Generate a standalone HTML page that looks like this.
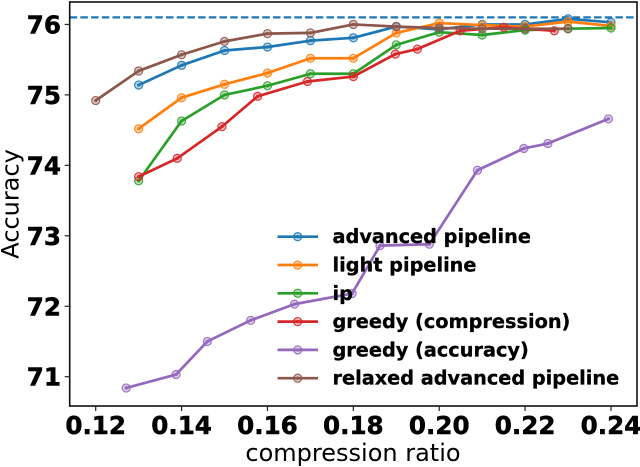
<!DOCTYPE html>
<html><head><meta charset="utf-8">
<style>
html,body{margin:0;padding:0;background:#fff;}
svg{display:block;}
text{fill:#000;font-family:"DejaVu Sans","Liberation Sans",sans-serif;}
.tick{font-weight:bold;font-size:24.6px;stroke:#000;stroke-width:0.5px;}
.leg{font-weight:bold;font-size:19.3px;stroke:#000;stroke-width:0.3px;}
.lab{font-size:24px;}
</style></head>
<body>
<svg id="chart" width="640" height="467" viewBox="0 0 640 467" xmlns="http://www.w3.org/2000/svg">
<defs><filter id="soft" x="-2%" y="-2%" width="104%" height="104%"><feGaussianBlur stdDeviation="0.35"/></filter></defs>
<g filter="url(#soft)">
<g id="series"></g>
<g id="axes"></g>
<g id="legend"></g>
<text class="lab" x="353" y="461" text-anchor="middle">compression ratio</text>
<text class="lab" transform="translate(18.5,204) rotate(-90)" text-anchor="middle">Accuracy</text>
</g>
</svg>
<script>
const xTicks = [0.12, 0.14, 0.16, 0.18, 0.20, 0.22, 0.24];
const yTicks = [71, 72, 73, 74, 75, 76];
const baseline = 76.1;
const seriesNames = ['advanced pipeline', 'light pipeline', 'ip', 'greedy (compression)', 'greedy (accuracy)', 'relaxed advanced pipeline'];
const seriesColors = ['#1f77b4', '#ff7f0e', '#2ca02c', '#d62728', '#9467bd', '#8c564b'];
const gridX = [0.13, 0.14, 0.15, 0.16, 0.17, 0.18, 0.19, 0.20, 0.21, 0.22, 0.23, 0.24];
const advancedY = [75.14, 75.42, 75.63, 75.68, 75.77, 75.81, 75.97, 75.93, 76.0, 76.0, 76.08, 76.03];
const lightY = [74.52, 74.96, 75.15, 75.31, 75.52, 75.52, 75.88, 76.02, 75.99, 75.97, 76.04, 75.98];
const ipY = [73.78, 74.63, 75.0, 75.13, 75.3, 75.3, 75.71, 75.89, 75.85, 75.92, 75.94, 75.95];
const compressionX = [0.13, 0.139, 0.1494, 0.1577, 0.1693, 0.18, 0.1898, 0.1949, 0.2049, 0.215, 0.2268];
const compressionY = [73.84, 74.10, 74.55, 74.98, 75.19, 75.26, 75.58, 75.65, 75.91, 75.96, 75.91];
const accuracyX = [0.1271, 0.1387, 0.146, 0.1561, 0.1663, 0.1797, 0.1862, 0.1977, 0.2089, 0.2197, 0.2253, 0.2394];
const accuracyY = [70.84, 71.03, 71.5, 71.8, 72.03, 72.18, 72.86, 72.88, 73.93, 74.24, 74.31, 74.66];
const relaxedX = [0.12, 0.13, 0.14, 0.15, 0.16, 0.17, 0.18, 0.19, 0.20, 0.21, 0.22, 0.23];
const relaxedY = [74.92, 75.34, 75.57, 75.76, 75.87, 75.88, 76.0, 75.97, 75.95, 75.94, 75.94, 75.94];

const allX = [gridX, gridX, gridX, compressionX, accuracyX, relaxedX];
const allY = [advancedY, lightY, ipY, compressionY, accuracyY, relaxedY];

const NS = 'http://www.w3.org/2000/svg';
const L = 69.7, R = 637, T = 2, B = 406;
function sx(v) { return 95.7 + (v - 0.12) * 4294; }
function sy(v) { return 376.7 - (v - 71) * 70.45; }
function mk(tag, parent, attrs) {
  const e = document.createElementNS(NS, tag);
  for (const k in attrs) e.setAttribute(k, attrs[k]);
  parent.appendChild(e);
  return e;
}
function marker(parent, x, y, c) {
  const m = mk('g', parent, {});
  
  
  mk('circle', m, {cx: x, cy: y, r: 4, fill: c, 'fill-opacity': 0.3, stroke: c, 'stroke-width': 1.3, 'stroke-opacity': 0.85});
  mk('circle', m, {cx: x, cy: y, r: 1.7, fill: c, 'fill-opacity': 0.9});
}

const seriesG = document.getElementById('series');
const axesG = document.getElementById('axes');
const legendG = document.getElementById('legend');

const base = mk('line', seriesG, {x1: L, x2: R, y1: sy(baseline), y2: sy(baseline), stroke: '#1f77b4', 'stroke-width': 2.2, 'stroke-dasharray': '7.5 3.2'});



seriesNames.forEach(function (name, i) {
  const g = mk('g', seriesG, {});
  
  
  const pts = allX[i].map(function (x, j) { return sx(x).toFixed(2) + ',' + sy(allY[i][j]).toFixed(2); }).join(' ');
  mk('polyline', g, {points: pts, fill: 'none', stroke: seriesColors[i], 'stroke-width': 2.7, 'stroke-linejoin': 'round'});
  allX[i].forEach(function (x, j) { marker(g, sx(x), sy(allY[i][j]), seriesColors[i]); });
});

const frame = mk('rect', axesG, {x: L, y: T, width: R - L, height: B - T, fill: 'none', stroke: '#111', 'stroke-width': 1.6});



xTicks.forEach(function (t) {
  const m = mk('line', axesG, {x1: sx(t), x2: sx(t), y1: B, y2: B + 5, stroke: '#222', 'stroke-width': 1.2});
  
  
  const l = mk('text', axesG, {x: sx(t), y: 434, 'text-anchor': 'middle', class: 'tick'});
  
  
  l.textContent = t.toFixed(2);
});
yTicks.forEach(function (t) {
  const m = mk('line', axesG, {x1: L - 5, x2: L, y1: sy(t), y2: sy(t), stroke: '#222', 'stroke-width': 1.2});
  
  
  const l = mk('text', axesG, {x: 61, y: sy(t) + 9, 'text-anchor': 'end', class: 'tick'});
  
  
  l.textContent = String(t);
});

seriesNames.forEach(function (name, i) {
  const y = 236.7 + i * 28.3;
  const g = mk('g', legendG, {});
  
  
  mk('line', g, {x1: 277.5, x2: 318, y1: y, y2: y, stroke: seriesColors[i], 'stroke-width': 2.7});
  marker(g, 297.7, y, seriesColors[i]);
  const t = mk('text', g, {x: 332.5, y: y + 6.5, class: 'leg'});
  t.textContent = name;
});
</script>
</body></html>
